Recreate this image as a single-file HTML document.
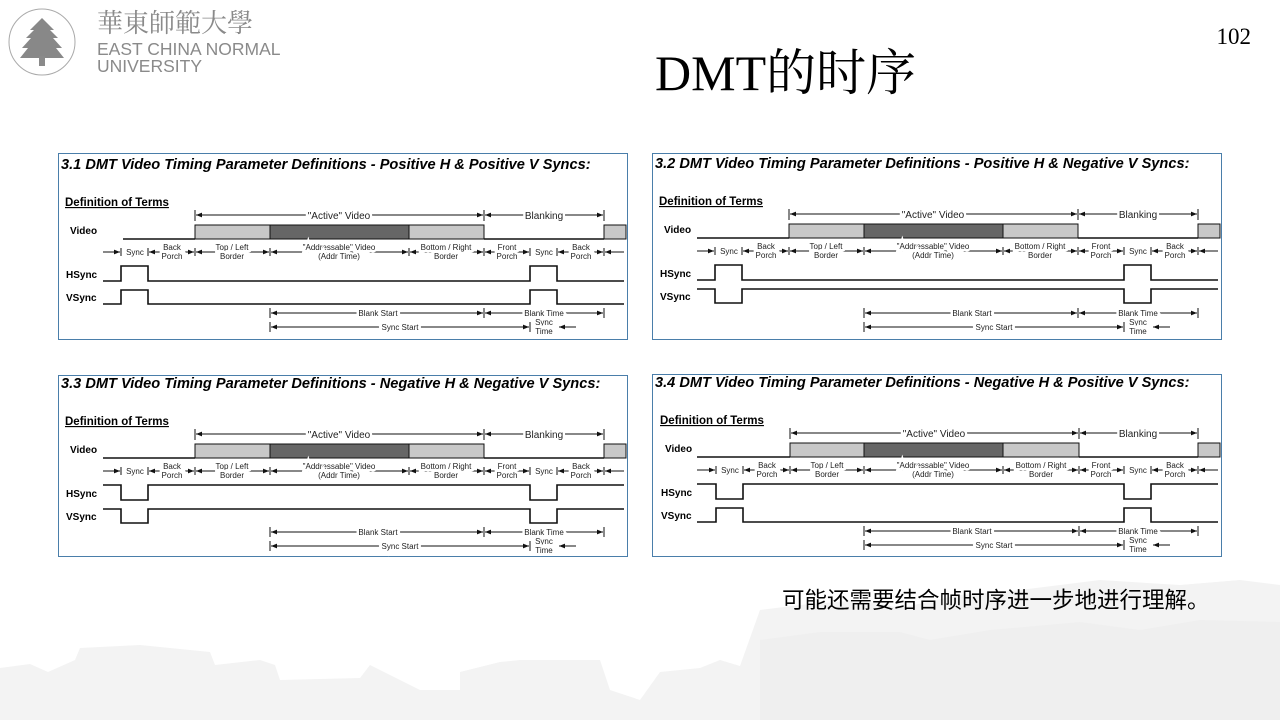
<!DOCTYPE html>
<html><head><meta charset="utf-8"><style>
html,body{margin:0;padding:0;background:#fff}
svg text{font-family:"Liberation Sans",sans-serif}
.t{font-weight:bold;font-style:italic;font-size:14.6px}
.d{font-weight:bold;font-size:11.5px;text-decoration:underline}
.l{font-weight:bold;font-size:10px}
.s{font-size:8px;text-anchor:middle;paint-order:stroke;stroke:#fff;stroke-width:5px;fill:#222}
.m{font-size:10px;text-anchor:middle;paint-order:stroke;stroke:#fff;stroke-width:5px;fill:#222}
.ln{stroke:#111;stroke-width:1;fill:none}
.w{stroke:#111;stroke-width:1.6;fill:none}
</style></head><body>
<svg width="1280" height="720" viewBox="0 0 1280 720" xmlns="http://www.w3.org/2000/svg">
<defs>
<marker id="ar" viewBox="0 0 10 10" refX="10" refY="5" markerWidth="6" markerHeight="6" orient="auto-start-reverse"><path d="M0,1 L10,5 L0,9 Z" fill="#111"/></marker>
</defs>
<!-- background buildings -->
<path d="M0,720 L0,668 L30,664 L48,672 L75,660 L80,648 L140,645 L210,652 L215,665 L260,660 L275,665 L280,680 L360,678 L370,665 L420,690 L460,690 L460,672 L500,662 L520,660 L600,660 L610,690 L640,700 L660,672 L700,668 L720,660 L740,666 L760,610 L800,605 L860,600 L900,608 L960,595 L1020,590 L1100,580 L1180,585 L1240,580 L1280,585 L1280,720 Z" fill="#f3f3f3"/>
<path d="M760,720 L760,640 L820,632 L900,632 L930,640 L990,630 L1080,622 L1140,630 L1200,620 L1280,622 L1280,720 Z" fill="#efefef"/>
<!-- logo -->
<g fill="#8a8a8a">
<circle cx="42" cy="42" r="33" fill="none" stroke="#aaa" stroke-width="1"/>
<path d="M42,18 L30,30 L34,30 L26,38 L31,38 L22,48 L28,48 L20,58 L64,58 L56,48 L62,48 L53,38 L58,38 L50,30 L54,30 Z" fill="#888"/>
<rect x="39" y="56" width="6" height="10"/>
<text x="97" y="32" font-size="26" style="font-family:'Noto Serif CJK SC',serif" fill="#8a8a8a">華東師範大學</text>
<text x="97" y="55" font-size="17.5" fill="#8a8a8a">EAST CHINA NORMAL</text>
<text x="97" y="72" font-size="17.5" fill="#8a8a8a">UNIVERSITY</text>
</g>
<text x="1251" y="44" font-size="23" text-anchor="end" style="font-family:'Liberation Serif',serif">102</text>
<text x="655" y="90" font-size="50" style="font-family:'Liberation Serif','Noto Serif CJK SC',serif">DMT的时序</text>
<text x="782" y="608" font-size="22.5" style="font-family:'Liberation Sans','Noto Sans CJK SC',sans-serif">可能还需要结合帧时序进一步地进行理解。</text>

<!-- PANEL 1 -->
<g transform="translate(58,153)">
<rect x="0.5" y="0.5" width="569" height="186" fill="#fff" stroke="#4a7eaa"/>
<text x="3" y="16" class="t">3.1  DMT Video Timing Parameter Definitions - Positive H &amp; Positive V Syncs:</text>
<text x="7" y="53" class="d">Definition of Terms</text>
<text x="12" y="81" class="l">Video</text><text x="8" y="125" class="l">HSync</text><text x="8" y="148" class="l">VSync</text>
<g class="ln"><path d="M137,57V68M426,57V68M546,57V68"/>
<line x1="138" y1="62" x2="425" y2="62" marker-start="url(#ar)" marker-end="url(#ar)"/>
<line x1="427" y1="62" x2="545" y2="62" marker-start="url(#ar)" marker-end="url(#ar)"/></g>
<text x="281" y="66" class="m">"Active" Video</text><text x="486" y="66" class="m">Blanking</text>
<path d="M65,86H137M426,86H546" class="w"/>
<rect x="137" y="72" width="75" height="14" fill="#c8c8c8" stroke="#111"/><rect x="212" y="72" width="139" height="14" fill="#666" stroke="#111"/><rect x="351" y="72" width="75" height="14" fill="#c8c8c8" stroke="#111"/><rect x="546" y="72" width="22" height="14" fill="#c8c8c8" stroke="#111"/>
<g class="ln"><path d="M63,95V103M90,95V103M137,95V103M212,95V103M351,95V103M426,95V103M472,95V103M499,95V103M546,95V103"/>
<line x1="45" y1="99" x2="62" y2="99" marker-end="url(#ar)"/><line x1="91" y1="99" x2="136" y2="99" marker-start="url(#ar)" marker-end="url(#ar)"/><line x1="138" y1="99" x2="211" y2="99" marker-start="url(#ar)" marker-end="url(#ar)"/><line x1="213" y1="99" x2="350" y2="99" marker-start="url(#ar)" marker-end="url(#ar)"/><line x1="352" y1="99" x2="425" y2="99" marker-start="url(#ar)" marker-end="url(#ar)"/><line x1="427" y1="99" x2="471" y2="99" marker-start="url(#ar)" marker-end="url(#ar)"/><line x1="500" y1="99" x2="545" y2="99" marker-start="url(#ar)" marker-end="url(#ar)"/><line x1="547" y1="99" x2="566" y2="99" marker-start="url(#ar)"/>
<line x1="213" y1="160" x2="425" y2="160" marker-start="url(#ar)" marker-end="url(#ar)"/><line x1="427" y1="160" x2="545" y2="160" marker-start="url(#ar)" marker-end="url(#ar)"/><line x1="213" y1="174" x2="471" y2="174" marker-start="url(#ar)" marker-end="url(#ar)"/><line x1="501" y1="174" x2="518" y2="174" marker-start="url(#ar)"/>
<path d="M212,155V165M426,155V165M546,155V165M212,169V179M472,169V179"/></g>
<text x="77" y="102" class="s">Sync</text><text x="114" y="97" class="s">Back</text><text x="114" y="106" class="s">Porch</text><text x="174" y="97" class="s">Top / Left</text><text x="174" y="106" class="s">Border</text><text x="281" y="97" class="s">"Addressable" Video</text><text x="281" y="106" class="s">(Addr Time)</text><text x="388" y="97" class="s">Bottom / Right</text><text x="388" y="106" class="s">Border</text><text x="449" y="97" class="s">Front</text><text x="449" y="106" class="s">Porch</text><text x="486" y="102" class="s">Sync</text><text x="523" y="97" class="s">Back</text><text x="523" y="106" class="s">Porch</text>
<text x="320" y="163" class="s">Blank Start</text><text x="486" y="163" class="s">Blank Time</text><text x="342" y="177" class="s">Sync Start</text><text x="486" y="172" class="s">Sync</text><text x="486" y="181" class="s">Time</text>
<path class="w" d="M45,128H63V113H90V128H472V113H499V128H566"/>
<path class="w" d="M45,151H63V137H90V151H472V137H499V151H566"/>
</g>

<!-- PANEL 2 -->
<g transform="translate(652,153)">
<rect x="0.5" y="0.5" width="569" height="186" fill="#fff" stroke="#4a7eaa"/>
<g transform="translate(0,-1)">
<text x="3" y="16" class="t">3.2  DMT Video Timing Parameter Definitions - Positive H &amp; Negative V Syncs:</text>
<text x="7" y="53" class="d">Definition of Terms</text>
<text x="12" y="81" class="l">Video</text><text x="8" y="125" class="l">HSync</text><text x="8" y="148" class="l">VSync</text>
<g class="ln"><path d="M137,57V68M426,57V68M546,57V68"/>
<line x1="138" y1="62" x2="425" y2="62" marker-start="url(#ar)" marker-end="url(#ar)"/>
<line x1="427" y1="62" x2="545" y2="62" marker-start="url(#ar)" marker-end="url(#ar)"/></g>
<text x="281" y="66" class="m">"Active" Video</text><text x="486" y="66" class="m">Blanking</text>
<path d="M45,86H137M426,86H546" class="w"/>
<rect x="137" y="72" width="75" height="14" fill="#c8c8c8" stroke="#111"/><rect x="212" y="72" width="139" height="14" fill="#666" stroke="#111"/><rect x="351" y="72" width="75" height="14" fill="#c8c8c8" stroke="#111"/><rect x="546" y="72" width="22" height="14" fill="#c8c8c8" stroke="#111"/>
<g class="ln"><path d="M63,95V103M90,95V103M137,95V103M212,95V103M351,95V103M426,95V103M472,95V103M499,95V103M546,95V103"/>
<line x1="45" y1="99" x2="62" y2="99" marker-end="url(#ar)"/><line x1="91" y1="99" x2="136" y2="99" marker-start="url(#ar)" marker-end="url(#ar)"/><line x1="138" y1="99" x2="211" y2="99" marker-start="url(#ar)" marker-end="url(#ar)"/><line x1="213" y1="99" x2="350" y2="99" marker-start="url(#ar)" marker-end="url(#ar)"/><line x1="352" y1="99" x2="425" y2="99" marker-start="url(#ar)" marker-end="url(#ar)"/><line x1="427" y1="99" x2="471" y2="99" marker-start="url(#ar)" marker-end="url(#ar)"/><line x1="500" y1="99" x2="545" y2="99" marker-start="url(#ar)" marker-end="url(#ar)"/><line x1="547" y1="99" x2="566" y2="99" marker-start="url(#ar)"/>
<line x1="213" y1="161" x2="425" y2="161" marker-start="url(#ar)" marker-end="url(#ar)"/><line x1="427" y1="161" x2="545" y2="161" marker-start="url(#ar)" marker-end="url(#ar)"/><line x1="213" y1="175" x2="471" y2="175" marker-start="url(#ar)" marker-end="url(#ar)"/><line x1="501" y1="175" x2="518" y2="175" marker-start="url(#ar)"/>
<path d="M212,156V166M426,156V166M546,156V166M212,170V180M472,170V180"/></g>
<text x="77" y="102" class="s">Sync</text><text x="114" y="97" class="s">Back</text><text x="114" y="106" class="s">Porch</text><text x="174" y="97" class="s">Top / Left</text><text x="174" y="106" class="s">Border</text><text x="281" y="97" class="s">"Addressable" Video</text><text x="281" y="106" class="s">(Addr Time)</text><text x="388" y="97" class="s">Bottom / Right</text><text x="388" y="106" class="s">Border</text><text x="449" y="97" class="s">Front</text><text x="449" y="106" class="s">Porch</text><text x="486" y="102" class="s">Sync</text><text x="523" y="97" class="s">Back</text><text x="523" y="106" class="s">Porch</text>
<text x="320" y="164" class="s">Blank Start</text><text x="486" y="164" class="s">Blank Time</text><text x="342" y="178" class="s">Sync Start</text><text x="486" y="173" class="s">Sync</text><text x="486" y="182" class="s">Time</text>
<path class="w" d="M45,128H63V113H90V128H472V113H499V128H566"/>
<path class="w" d="M45,137H63V151H90V137H472V151H499V137H566"/>
</g></g>

<!-- PANEL 3 -->
<g transform="translate(58,375)">
<rect x="0.5" y="0.5" width="569" height="181" fill="#fff" stroke="#4a7eaa"/>
<g transform="translate(0,-3)">
<text x="3" y="16" class="t">3.3  DMT Video Timing Parameter Definitions - Negative H &amp; Negative V Syncs:</text>
<text x="7" y="53" class="d">Definition of Terms</text>
<text x="12" y="81" class="l">Video</text><text x="8" y="125" class="l">HSync</text><text x="8" y="148" class="l">VSync</text>
<g class="ln"><path d="M137,57V68M426,57V68M546,57V68"/>
<line x1="138" y1="62" x2="425" y2="62" marker-start="url(#ar)" marker-end="url(#ar)"/>
<line x1="427" y1="62" x2="545" y2="62" marker-start="url(#ar)" marker-end="url(#ar)"/></g>
<text x="281" y="66" class="m">"Active" Video</text><text x="486" y="66" class="m">Blanking</text>
<path d="M45,86H137M426,86H546" class="w"/>
<rect x="137" y="72" width="75" height="14" fill="#c8c8c8" stroke="#111"/><rect x="212" y="72" width="139" height="14" fill="#666" stroke="#111"/><rect x="351" y="72" width="75" height="14" fill="#c8c8c8" stroke="#111"/><rect x="546" y="72" width="22" height="14" fill="#c8c8c8" stroke="#111"/>
<g class="ln"><path d="M63,95V103M90,95V103M137,95V103M212,95V103M351,95V103M426,95V103M472,95V103M499,95V103M546,95V103"/>
<line x1="45" y1="99" x2="62" y2="99" marker-end="url(#ar)"/><line x1="91" y1="99" x2="136" y2="99" marker-start="url(#ar)" marker-end="url(#ar)"/><line x1="138" y1="99" x2="211" y2="99" marker-start="url(#ar)" marker-end="url(#ar)"/><line x1="213" y1="99" x2="350" y2="99" marker-start="url(#ar)" marker-end="url(#ar)"/><line x1="352" y1="99" x2="425" y2="99" marker-start="url(#ar)" marker-end="url(#ar)"/><line x1="427" y1="99" x2="471" y2="99" marker-start="url(#ar)" marker-end="url(#ar)"/><line x1="500" y1="99" x2="545" y2="99" marker-start="url(#ar)" marker-end="url(#ar)"/><line x1="547" y1="99" x2="566" y2="99" marker-start="url(#ar)"/>
<line x1="213" y1="160" x2="425" y2="160" marker-start="url(#ar)" marker-end="url(#ar)"/><line x1="427" y1="160" x2="545" y2="160" marker-start="url(#ar)" marker-end="url(#ar)"/><line x1="213" y1="174" x2="471" y2="174" marker-start="url(#ar)" marker-end="url(#ar)"/><line x1="501" y1="174" x2="518" y2="174" marker-start="url(#ar)"/>
<path d="M212,155V165M426,155V165M546,155V165M212,169V179M472,169V179"/></g>
<text x="77" y="102" class="s">Sync</text><text x="114" y="97" class="s">Back</text><text x="114" y="106" class="s">Porch</text><text x="174" y="97" class="s">Top / Left</text><text x="174" y="106" class="s">Border</text><text x="281" y="97" class="s">"Addressable" Video</text><text x="281" y="106" class="s">(Addr Time)</text><text x="388" y="97" class="s">Bottom / Right</text><text x="388" y="106" class="s">Border</text><text x="449" y="97" class="s">Front</text><text x="449" y="106" class="s">Porch</text><text x="486" y="102" class="s">Sync</text><text x="523" y="97" class="s">Back</text><text x="523" y="106" class="s">Porch</text>
<text x="320" y="163" class="s">Blank Start</text><text x="486" y="163" class="s">Blank Time</text><text x="342" y="177" class="s">Sync Start</text><text x="486" y="172" class="s">Sync</text><text x="486" y="181" class="s">Time</text>
<path class="w" d="M45,113H63V128H90V113H472V128H499V113H566"/>
<path class="w" d="M45,137H63V151H90V137H472V151H499V137H566"/>
</g></g>

<!-- PANEL 4 -->
<g transform="translate(652,374)">
<rect x="0.5" y="0.5" width="569" height="182" fill="#fff" stroke="#4a7eaa"/>
<g transform="translate(0,-3)">
<text x="3" y="16" class="t">3.4  DMT Video Timing Parameter Definitions - Negative H &amp; Positive V Syncs:</text>
<text x="8" y="53" class="d">Definition of Terms</text>
<text x="13" y="81" class="l">Video</text><text x="9" y="125" class="l">HSync</text><text x="9" y="148" class="l">VSync</text>
<g class="ln"><path d="M138,57V68M427,57V68M546,57V68"/>
<line x1="139" y1="62" x2="426" y2="62" marker-start="url(#ar)" marker-end="url(#ar)"/>
<line x1="428" y1="62" x2="545" y2="62" marker-start="url(#ar)" marker-end="url(#ar)"/></g>
<text x="282" y="66" class="m">"Active" Video</text><text x="486" y="66" class="m">Blanking</text>
<path d="M45,86H138M427,86H546" class="w"/>
<rect x="138" y="72" width="74" height="14" fill="#c8c8c8" stroke="#111"/><rect x="212" y="72" width="139" height="14" fill="#666" stroke="#111"/><rect x="351" y="72" width="76" height="14" fill="#c8c8c8" stroke="#111"/><rect x="546" y="72" width="22" height="14" fill="#c8c8c8" stroke="#111"/>
<g class="ln"><path d="M64,95V103M91,95V103M138,95V103M212,95V103M351,95V103M427,95V103M472,95V103M499,95V103M546,95V103"/>
<line x1="45" y1="99" x2="63" y2="99" marker-end="url(#ar)"/><line x1="92" y1="99" x2="137" y2="99" marker-start="url(#ar)" marker-end="url(#ar)"/><line x1="139" y1="99" x2="211" y2="99" marker-start="url(#ar)" marker-end="url(#ar)"/><line x1="213" y1="99" x2="350" y2="99" marker-start="url(#ar)" marker-end="url(#ar)"/><line x1="352" y1="99" x2="426" y2="99" marker-start="url(#ar)" marker-end="url(#ar)"/><line x1="428" y1="99" x2="471" y2="99" marker-start="url(#ar)" marker-end="url(#ar)"/><line x1="500" y1="99" x2="545" y2="99" marker-start="url(#ar)" marker-end="url(#ar)"/><line x1="547" y1="99" x2="566" y2="99" marker-start="url(#ar)"/>
<line x1="213" y1="160" x2="426" y2="160" marker-start="url(#ar)" marker-end="url(#ar)"/><line x1="428" y1="160" x2="545" y2="160" marker-start="url(#ar)" marker-end="url(#ar)"/><line x1="213" y1="174" x2="471" y2="174" marker-start="url(#ar)" marker-end="url(#ar)"/><line x1="501" y1="174" x2="518" y2="174" marker-start="url(#ar)"/>
<path d="M212,155V165M427,155V165M546,155V165M212,169V179M472,169V179"/></g>
<text x="78" y="102" class="s">Sync</text><text x="115" y="97" class="s">Back</text><text x="115" y="106" class="s">Porch</text><text x="175" y="97" class="s">Top / Left</text><text x="175" y="106" class="s">Border</text><text x="281" y="97" class="s">"Addressable" Video</text><text x="281" y="106" class="s">(Addr Time)</text><text x="389" y="97" class="s">Bottom / Right</text><text x="389" y="106" class="s">Border</text><text x="449" y="97" class="s">Front</text><text x="449" y="106" class="s">Porch</text><text x="486" y="102" class="s">Sync</text><text x="523" y="97" class="s">Back</text><text x="523" y="106" class="s">Porch</text>
<text x="320" y="163" class="s">Blank Start</text><text x="486" y="163" class="s">Blank Time</text><text x="342" y="177" class="s">Sync Start</text><text x="486" y="172" class="s">Sync</text><text x="486" y="181" class="s">Time</text>
<path class="w" d="M45,113H64V128H91V113H472V128H499V113H566"/>
<path class="w" d="M45,151H64V137H91V151H472V137H499V151H566"/>
</g></g>
</svg>
</body></html>
